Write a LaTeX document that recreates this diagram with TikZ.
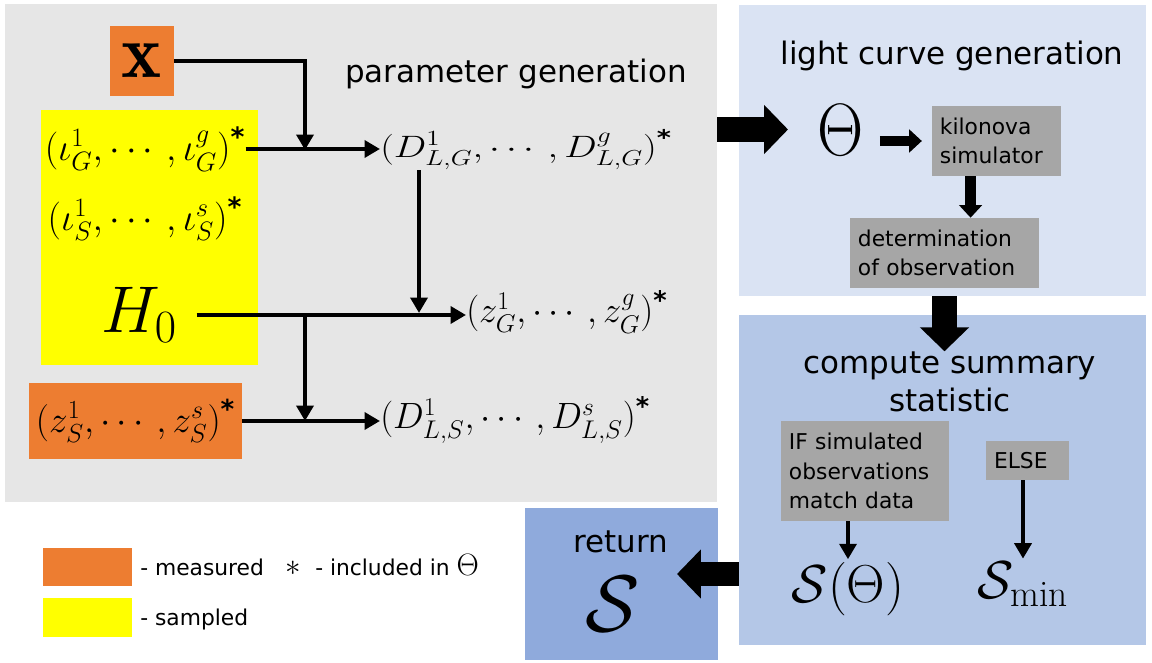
\RequirePackage{fix-cm}
\documentclass[tikz,border=0pt]{standalone}
\usepackage{amsmath}
\usepackage{graphicx}
\usepackage{fontspec}
\setsansfont{DejaVu Sans}
\usepackage{tikz}
\usetikzlibrary{arrows.meta,fit,calc}

\definecolor{pgray}{HTML}{E6E6E6}
\definecolor{lblue}{HTML}{DAE3F3}
\definecolor{mblue}{HTML}{B4C7E7}
\definecolor{dblue}{HTML}{8FAADC}
\definecolor{meas}{HTML}{ED7D31}
\definecolor{samp}{HTML}{FFFF00}
\definecolor{boxgray}{HTML}{A6A6A6}

\newcommand{\incl}{^{\text{\sffamily\bfseries *}}}
\newcommand{\msize}[1]{\fontsize{#1}{#1}\selectfont}

\tikzset{
  panel/.style={inner sep=0pt, draw=none},
  headtxt/.style={font=\sffamily\fontsize{22}{27.5}\selectfont, align=center, inner sep=0pt},
  legtxt/.style={font=\sffamily\fontsize{15.5}{21}\selectfont, inner sep=0pt},
  graybox/.style 2 args={fill=boxgray, font=\sffamily\fontsize{15.5}{21}\selectfont,
    align=left, text width=#1, minimum height=#2, inner xsep=0.2cm, inner ysep=0pt},
  mathtxt/.style={inner sep=0pt},
  thinarr/.style={line width=3.4pt, -{Triangle[length=11pt,width=12pt]}},
  midarr/.style={line width=7.5pt, -{Triangle[length=9pt,width=16pt]}},
  fatarr/.style={line width=17.5pt, -{Triangle[length=17pt,width=34pt]}}
}

\begin{document}
\begin{tikzpicture}[x=0.025cm, y=-0.025cm]
  \useasboundingbox (0,0) rectangle (1152,663);

  % panels
  \node[panel, fill=pgray, fit={(5,4) (717,502)}] (pgen) {};
  \node[panel, fill=lblue, fit={(739,5) (1146,296)}] (lcgen) {};
  \node[panel, fill=mblue, fit={(739,315) (1146,645)}] (summ) {};
  \node[panel, fill=dblue, fit={(525,508) (718,660)}] (ret) {};
  \node[panel, fill=samp, fit={(41,110) (258,365)}] (sampled) {};

  % parameter generation
  \node[headtxt, anchor=base] (ptitle) at (516,83) {parameter generation};
  \node[fill=meas, minimum width=1.6cm, minimum height=1.75cm, inner sep=0pt, font=\msize{54}] (xbox) at (142,61) {$\mathbf{x}$};
  \node[mathtxt, font=\msize{27}] (iotaG) at (145,149) {$(\iota^1_G,\cdots,\iota^g_G)\incl$};
  \node[mathtxt, font=\msize{27}] (iotaS) at (145,219) {$(\iota^1_S,\cdots,\iota^s_S)\incl$};
  \node[mathtxt, font=\msize{47}] (H0) at (139,315) {$H_0$};
  \node[fill=meas, minimum width=5.325cm, minimum height=1.9cm, inner sep=0pt, font=\msize{26.5}] (zS) at (135.5,421) {$(z^1_S,\cdots,z^s_S)\incl$};
  \node[mathtxt, anchor=west, font=\msize{22}] (DLG) at (380,150) {\scalebox{1.25}[1]{$(D^1_{L,G},\cdots,D^g_{L,G})\incl$}};
  \node[mathtxt, anchor=west, font=\msize{26}] (zG) at (466,312) {$(z^1_G,\cdots,z^g_G)\incl$};
  \node[mathtxt, anchor=west, font=\msize{26}] (DLS) at (380,420) {$(D^1_{L,S},\cdots,D^s_{L,S})\incl$};

  \coordinate (jG) at (305,150);
  \coordinate (jZ) at (419,313);
  \coordinate (jS) at (305,421);

  \draw[thinarr] (iotaG.east) -- (iotaG.east -| DLG.west);
  \draw[thinarr] (xbox.east) -| (jG);
  \draw[thinarr] (DLG.south -| jZ) -- (jZ);
  \draw[thinarr, shorten <=14pt] (H0.east) -- (H0.east -| zG.west);
  \draw[thinarr] (H0.east -| jS) -- (jS);
  \draw[thinarr] (zS.east) -- (zS.east -| DLS.west);

  % light curve generation
  \node[headtxt, anchor=base] (lctitle) at (952,65) {light curve generation};
  \node[mathtxt, font=\msize{48}] (theta) at (841,130) {\scalebox{0.95}[1.1]{$\Theta$}};
  \node[graybox={2.825cm}{1.75cm}] (kilo) at (996.5,141) {kilonova\\simulator};
  \node[graybox={4.325cm}{1.75cm}] (det) at (944.5,253) {determination\\of observation};

  \coordinate (th) at (788,129.5);
  \coordinate (kd) at ($(kilo.south west)!0.3!(kilo.south east)$);
  \draw[fatarr] (pgen.east |- th) -- (th);
  \draw[midarr, shorten <=11pt, shorten >=7pt] (theta.east |- kilo.west) -- (kilo.west);
  \draw[midarr] (kd) -- (kd |- det.north);

  % summary statistic
  \node[headtxt] (ctitle) at (950,382) {compute summary\\statistic};
  \node[graybox={3.8cm}{2.5cm}] (ifbox) at (865,471) {IF simulated\\observations\\match data};
  \node[graybox={1.675cm}{0.975cm}] (elsebox) at (1027.5,460.5) {ELSE};
  \node[mathtxt, font=\msize{38}] (Sth) at (848,589) {$\mathcal{S}(\Theta)$};
  \node[mathtxt, font=\msize{38}] (Smin) at (1023,584) {$\mathcal{S}_{\min}$};

  \draw[fatarr] (lcgen.south -| det.south) -- (det.south |- ctitle.north);
  \draw[thinarr, shorten >=2pt] (ifbox.south -| Sth) -- (Sth.north);
  \draw[thinarr, shorten >=2pt] (elsebox.south -| Smin) -- (Smin.north);

  % return
  \node[headtxt, anchor=base] (rettitle) at (621,552) {return};
  \node[mathtxt, font=\msize{57}] (bigS) at (613,604) {$\mathcal{S}$};
  \coordinate (rt) at (677,574);
  \draw[fatarr] (summ.west |- rt) -- (rt);

  % legend
  \node[fill=meas, minimum width=2.225cm, minimum height=0.95cm, inner sep=0pt] (lmeas) at (87.5,567) {};
  \node[fill=samp, minimum width=2.225cm, minimum height=0.975cm, inner sep=0pt] (lsamp) at (87.5,617.5) {};
  \node[legtxt, anchor=base west] (tmeas) at (140,575) {- measured};
  \node[mathtxt, font=\msize{22}] (lstar) at (293,568) {$\ast$};
  \node[legtxt, anchor=base west] (tincl) at (315,575) {- included in {\msize{22}$\Theta$}};
  \node[legtxt, anchor=base west] (tsamp) at (140,625) {- sampled};
\end{tikzpicture}
\end{document}
